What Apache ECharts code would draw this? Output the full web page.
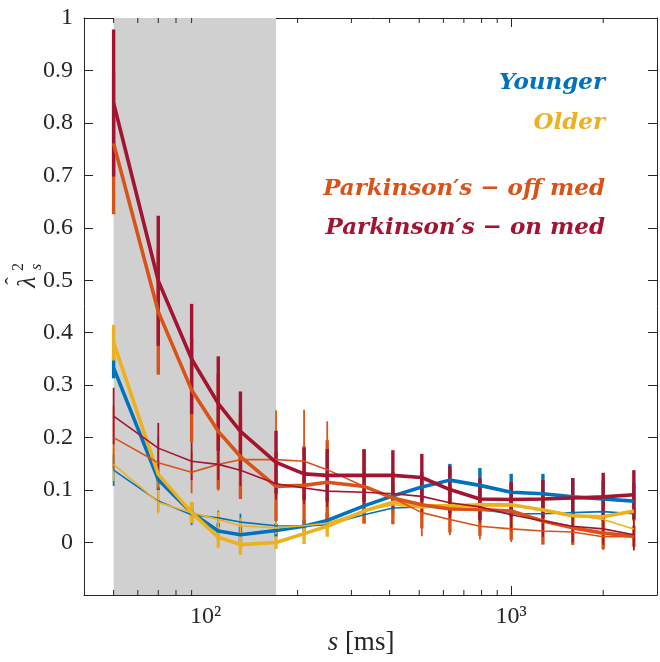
<!DOCTYPE html>
<html><head><meta charset="utf-8">
<script src="https://cdn.jsdelivr.net/npm/echarts@6/dist/echarts.min.js"></script>
<style>html,body{margin:0;padding:0;background:#fff}#c{width:660px;height:662px}</style>
</head><body><div id="c"></div>
<script>
// ---- data ----
const scales = [50, 70, 90, 110, 130, 170, 210, 250, 330, 410, 510, 630, 790, 1000, 1270, 1590, 2000, 2520];

const youngerThick = [0.333, 0.120, 0.057, 0.022, 0.015, 0.023, 0.031, 0.042, 0.070, 0.089, 0.106, 0.119, 0.109, 0.096, 0.093, 0.087, 0.083, 0.079];
const youngerThickErr = [0.020, 0.020, 0.020, 0.015, 0.015, 0.013, 0.012, 0.015, 0.020, 0.022, 0.028, 0.031, 0.033, 0.035, 0.038, 0.035, 0.035, 0.035];
const youngerThin = [0.138, 0.079, 0.053, 0.047, 0.039, 0.032, 0.031, 0.034, 0.053, 0.066, 0.068, 0.066, 0.063, 0.055, 0.055, 0.057, 0.059, 0.055];
const youngerThinErr = [0.030, 0.020, 0.020, 0.014, 0.016, 0.013, 0.012, 0.012, 0.012, 0.012, 0.012, 0.012, 0.012, 0.012, 0.012, 0.012, 0.012, 0.012];

const olderThick = [0.381, 0.130, 0.057, 0.010, -0.004, 0.000, 0.017, 0.031, 0.060, 0.077, 0.070, 0.070, 0.072, 0.072, 0.062, 0.051, 0.049, 0.060];
const olderThickErr = [0.034, 0.025, 0.020, 0.020, 0.020, 0.012, 0.020, 0.020, 0.025, 0.022, 0.020, 0.020, 0.020, 0.020, 0.020, 0.020, 0.020, 0.020];
const olderThin = [0.149, 0.077, 0.057, 0.044, 0.032, 0.028, 0.032, 0.037, 0.060, 0.072, 0.066, 0.070, 0.070, 0.070, 0.063, 0.053, 0.044, 0.026];
const olderThinErr = [0.032, 0.022, 0.020, 0.015, 0.015, 0.012, 0.012, 0.012, 0.012, 0.012, 0.012, 0.012, 0.012, 0.012, 0.012, 0.012, 0.012, 0.012];

const offThick = [0.761, 0.440, 0.291, 0.212, 0.164, 0.107, 0.109, 0.115, 0.107, 0.085, 0.072, 0.064, 0.063, 0.060, 0.041, 0.028, 0.018, 0.012];
const offThickErr = [0.135, 0.120, 0.100, 0.110, 0.081, 0.066, 0.075, 0.080, 0.070, 0.050, 0.045, 0.045, 0.050, 0.055, 0.045, 0.032, 0.030, 0.020];
const offThin = [0.200, 0.152, 0.134, 0.149, 0.158, 0.158, 0.155, 0.139, 0.107, 0.085, 0.057, 0.044, 0.031, 0.026, 0.022, 0.020, 0.011, 0.011];
const offThinErr = [0.061, 0.050, 0.040, 0.050, 0.060, 0.094, 0.098, 0.092, 0.070, 0.050, 0.045, 0.030, 0.025, 0.025, 0.025, 0.025, 0.025, 0.020];

const onThick = [0.838, 0.499, 0.350, 0.265, 0.212, 0.153, 0.131, 0.128, 0.128, 0.128, 0.124, 0.101, 0.083, 0.082, 0.083, 0.085, 0.087, 0.091];
const onThickErr = [0.140, 0.124, 0.105, 0.090, 0.076, 0.060, 0.050, 0.050, 0.050, 0.048, 0.045, 0.045, 0.040, 0.033, 0.036, 0.038, 0.046, 0.047];
const onThin = [0.241, 0.180, 0.155, 0.149, 0.138, 0.112, 0.104, 0.098, 0.096, 0.093, 0.088, 0.076, 0.068, 0.053, 0.041, 0.031, 0.026, 0.015];
const onThinErr = [0.054, 0.048, 0.036, 0.030, 0.030, 0.030, 0.030, 0.030, 0.030, 0.030, 0.030, 0.030, 0.030, 0.030, 0.030, 0.030, 0.030, 0.030];

const shadeRange = [50, 170];
const minorTickValues = [50, 60, 70, 80, 90, 200, 300, 400, 500, 600, 700, 800, 900, 2000];
const groupNames = ['Younger', 'Older', 'Parkinson\u2032s \u2212 off med', 'Parkinson\u2032s \u2212 on med'];
const groupColors = ['#0072BD', '#EDB120', '#D95319', '#A2142F'];
const X_MIN = 40, X_MAX = 3000, Y_MIN = -0.1, Y_MAX = 1;

// ---- build ----
const AX = '#262626';
const SERIF = 'Liberation Serif';
const chart = echarts.init(document.getElementById('c'), null, {renderer: 'canvas'});

function pairs(ys) { return scales.map((x, i) => [x, ys[i]]); }
function triples(ys, es) { return scales.map((x, i) => [x, ys[i], es[i]]); }

function lineSeries(name, ys, color, w) {
  return {type: 'line', name, data: pairs(ys), symbol: 'none', smooth: false,
    lineStyle: {color, width: w}, itemStyle: {color}, z: 2, animation: false, silent: true};
}
function errSeries(ys, es, color, w) {
  return {type: 'custom', data: triples(ys, es), z: 2, silent: true, animation: false,
    encode: {x: 0, y: 1},
    renderItem(params, api) {
      const x = api.value(0), y = api.value(1), e = api.value(2);
      const p1 = api.coord([x, y + e]), p2 = api.coord([x, y - e]);
      return {type: 'line', shape: {x1: p1[0], y1: p1[1], x2: p2[0], y2: p2[1]},
        style: {stroke: color, lineWidth: w}};
    }};
}

const groups = [
  [youngerThin, youngerThinErr, youngerThick, youngerThickErr],
  [olderThin, olderThinErr, olderThick, olderThickErr],
  [offThin, offThinErr, offThick, offThickErr],
  [onThin, onThinErr, onThick, onThickErr]
];

const series = [];
series.push({type: 'custom', z: 1, silent: true, animation: false,
  data: [[shadeRange[0], shadeRange[1]]], encode: {x: [0, 1]},
  renderItem(params, api) {
    const a = api.coord([api.value(0), Y_MAX]), b = api.coord([api.value(1), Y_MIN]);
    return {type: 'rect', shape: {x: a[0], y: a[1], width: b[0] - a[0], height: b[1] - a[1]},
      style: {fill: '#d0d0d0'}};
  }});
series.push({type: 'custom', z: 5, silent: true, animation: false,
  data: minorTickValues.map(v => [v, Y_MIN]), encode: {x: 0, y: 1},
  renderItem(params, api) {
    const v = api.value(0);
    const b = api.coord([v, Y_MIN]), t = api.coord([v, Y_MAX]);
    return {type: 'group', children: [
      {type: 'line', shape: {x1: b[0], y1: b[1], x2: b[0], y2: b[1] - 5}, style: {stroke: AX, lineWidth: 1}},
      {type: 'line', shape: {x1: t[0], y1: t[1], x2: t[0], y2: t[1] + 5}, style: {stroke: AX, lineWidth: 1}}
    ]};
  }});
groups.forEach((g, i) => {
  const c = groupColors[i];
  series.push(lineSeries(groupNames[i] + ' thin', g[0], c, 1.6));
  series.push(errSeries(g[0], g[1], c, 1.8));
  series.push(lineSeries(groupNames[i], g[2], c, 3.6));
  series.push(errSeries(g[2], g[3], c, 3.4));
});

function xAxisCfg(pos, showLabel) {
  return {type: 'log', logBase: 10, min: X_MIN, max: X_MAX, position: pos,
    axisLine: {show: true, onZero: false, lineStyle: {color: AX, width: 1}},
    axisTick: {show: true, inside: true, length: 9, lineStyle: {color: AX, width: 1}},
    splitLine: {show: false}, minorTick: {show: false},
    axisLabel: {show: showLabel, margin: 10, color: AX, fontFamily: SERIF, fontSize: 24,
      formatter: v => {
        const l = Math.log10(v);
        if (Math.abs(l - 2) < 1e-6) return '{t|10\u00b2}';
        if (Math.abs(l - 3) < 1e-6) return '{t|10\u00b3}';
        return '';
      },
      rich: {t: {fontFamily: SERIF, fontSize: 24, color: AX}}}};
}
function yAxisCfg(pos, showLabel) {
  return {type: 'value', min: Y_MIN, max: Y_MAX, interval: 0.1, position: pos,
    axisLine: {show: true, onZero: false, lineStyle: {color: AX, width: 1}},
    axisTick: {show: true, inside: true, length: 9, lineStyle: {color: AX, width: 1}},
    splitLine: {show: false},
    axisLabel: {show: showLabel, margin: 11, color: AX, fontFamily: SERIF, fontSize: 24,
      formatter: v => v < -0.05 ? '' : '{t|' + String(+v.toFixed(1)) + '}',
      rich: {t: {fontFamily: SERIF, fontSize: 24, color: AX}}}};
}

const legendY = [83, 123, 189, 228];
const graphic = groupNames.map((n, i) => ({
  type: 'text', x: 605, y: legendY[i], silent: true,
  style: {text: n, fill: groupColors[i], align: 'right', verticalAlign: 'middle',
    font: 'italic bold 23px "DejaVu Serif"'}
}));
graphic.push({type: 'text', x: 361, y: 643, silent: true,
  style: {text: '{i|s} [ms]', align: 'center', verticalAlign: 'middle', fill: AX,
    font: '27px "Liberation Serif"',
    rich: {i: {fontStyle: 'italic', fontFamily: SERIF, fontSize: 27, fill: AX}}}});
graphic.push({type: 'group', x: 28, y: 276, rotation: Math.PI / 2, silent: true, children: [
  {type: 'text', x: -6, y: 0, style: {text: '\u03bb', font: 'italic 26px "Liberation Serif"', fill: AX, align: 'center', verticalAlign: 'middle'}},
  {type: 'text', x: -5, y: -14, style: {text: '\u02c6', font: '22px "Liberation Serif"', fill: AX, align: 'center', verticalAlign: 'middle'}},
  {type: 'text', x: 9, y: -9, style: {text: '2', font: '16px "Liberation Serif"', fill: AX, align: 'center', verticalAlign: 'middle'}},
  {type: 'text', x: 9, y: 9, style: {text: 's', font: 'italic 16px "Liberation Serif"', fill: AX, align: 'center', verticalAlign: 'middle'}}
]});

chart.setOption({
  animation: false,
  backgroundColor: '#ffffff',
  textStyle: {fontFamily: SERIF},
  grid: {left: 84, top: 18, width: 577, height: 577, containLabel: false},
  xAxis: [xAxisCfg('bottom', true), xAxisCfg('top', false)],
  yAxis: [yAxisCfg('left', true), yAxisCfg('right', false)],
  series,
  graphic
});
</script></body></html>
